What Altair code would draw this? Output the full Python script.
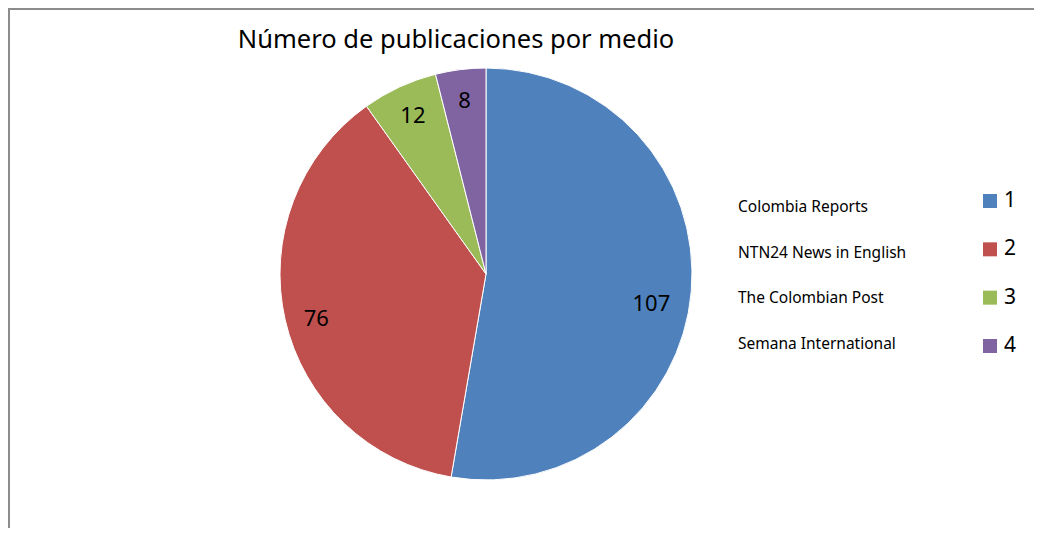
import altair as alt
import pandas as pd

medios = ["Colombia Reports", "NTN24 News in English", "The Colombian Post", "Semana International"]
numeros = ["1", "2", "3", "4"]
valores = [107, 76, 12, 8]
colores = ["#4F81BD", "#C0504D", "#9BBB59", "#8064A2"]
titulo = "Número de publicaciones por medio"

df = pd.DataFrame({"medio": medios, "num": numeros, "valor": valores, "orden": list(range(len(medios)))})

FONT = "Noto Sans"
CX, CY, R = 478, 266, 206

color_scale = alt.Scale(domain=numeros, range=colores)
base = alt.Chart(df)

pie = base.mark_arc(outerRadius=R, stroke="white", strokeWidth=1).encode(
    theta=alt.Theta("valor:Q", stack=True),
    color=alt.Color("num:N", scale=color_scale, legend=None),
    order=alt.Order("orden:Q"),
    x=alt.value(CX), y=alt.value(CY),
)

def label_layer(pred, **kw):
    return base.mark_text(radius=174, fontSize=22, font=FONT, color="black", **kw).encode(
        theta=alt.Theta("valor:Q", stack=True),
        order=alt.Order("orden:Q"),
        text=alt.condition(pred, alt.Text("valor:Q"), alt.value("")),
        x=alt.value(CX), y=alt.value(CY),
    )

labels_main = label_layer("datum.num != '1' && datum.num != '2'")
labels_red = label_layer("datum.num == '2'", dy=6)
labels_blue = label_layer("datum.num == '1'", dx=-8, dy=15)

y_leg = alt.Y("num:N", scale=alt.Scale(type="point", domain=numeros, range=[193, 338], padding=0), axis=None)
squares = base.mark_square(size=196, opacity=1).encode(
    x=alt.value(982), y=y_leg,
    color=alt.Color("num:N", scale=color_scale, legend=None),
)
nums_txt = base.mark_text(align="left", fontSize=21, font=FONT, color="black").encode(
    x=alt.value(996), y=y_leg, text="num:N",
)

y_names = alt.Y("medio:N", sort=medios, scale=alt.Scale(type="point", domain=medios, range=[199, 336], padding=0), axis=None)
names = base.mark_text(align="left", fontSize=15.5, font=FONT, color="black").encode(
    x=alt.value(730), y=y_names, text="medio:N",
)

one = alt.Chart(alt.Data(values=[{"t": titulo}]))
title = one.mark_text(align="center", baseline="alphabetic", fontSize=25.5, font=FONT, color="black").encode(
    x=alt.value(448), y=alt.value(40), text="t:N",
)
left_border = one.mark_rule(color="#8c8c8c", strokeWidth=2).encode(
    x=alt.value(1), y=alt.value(0), y2=alt.value(520))
top_border = one.mark_rule(color="#8c8c8c", strokeWidth=2).encode(
    x=alt.value(0), x2=alt.value(1026), y=alt.value(1))

chart = alt.layer(pie, labels_main, labels_red, labels_blue, squares, nums_txt, names, title, left_border, top_border).resolve_scale(
    y="independent"
).properties(
    width=1026, height=520, padding=0, autosize="none"
).configure_view(stroke=None)

chart.save("out.html", embed_options={"renderer": "svg", "actions": False})
